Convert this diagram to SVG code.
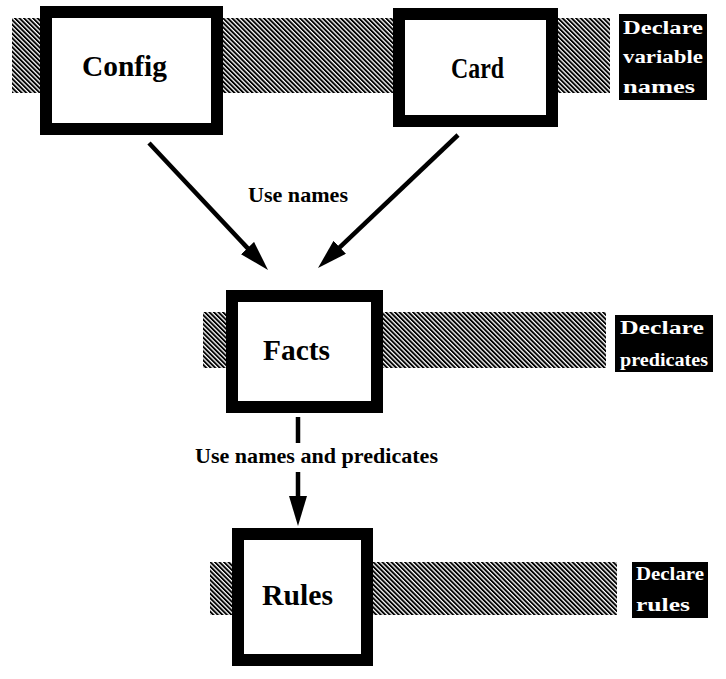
<svg xmlns="http://www.w3.org/2000/svg" width="726" height="679" viewBox="0 0 726 679">
  <defs>
    <pattern id="hatch" width="3.2" height="3.2" patternUnits="userSpaceOnUse" patternTransform="rotate(-45)">
      <rect width="3.2" height="3.2" fill="#fff"/>
      <rect width="1.9" height="3.2" fill="#000"/>
    </pattern>
    <marker id="head" viewBox="0 0 30 18" refX="18" refY="9" markerWidth="30" markerHeight="18" markerUnits="userSpaceOnUse" orient="auto">
      <path d="M0,0 L30,9 L0,18 Z" fill="#000"/>
    </marker>
  </defs>
  <style>
    .band { fill: url(#hatch); }
    .box { fill: #fff; stroke: #000; stroke-width: 12; }
    .name { font-family: "Liberation Serif", "Times New Roman", serif; font-weight: bold; font-size: 30px; fill: #000; }
    .edge { font-family: "Liberation Serif", "Times New Roman", serif; font-weight: bold; font-size: 22px; fill: #000; }
    .tag { fill: #000; }
    .tagtext { font-family: "Liberation Serif", "Times New Roman", serif; font-weight: bold; font-size: 18px; fill: #fff; }
    .link { fill: none; stroke: #000; stroke-width: 4.5; marker-end: url(#head); }
  </style>

  <rect width="726" height="679" fill="#fff"/>

  <!-- hatched layer bands -->
  <rect class="band" x="12" y="18" width="598" height="75"/>
  <rect class="band" x="203" y="312" width="403" height="56"/>
  <rect class="band" x="210" y="562" width="407" height="53"/>

  <!-- layer tags -->
  <g id="tag-names">
    <rect class="tag" x="619" y="14" width="88" height="86"/>
    <text class="tagtext" x="623" y="34" textLength="80" lengthAdjust="spacingAndGlyphs">Declare</text>
    <text class="tagtext" x="623" y="63" textLength="80" lengthAdjust="spacingAndGlyphs">variable</text>
    <text class="tagtext" x="623" y="93" textLength="72" lengthAdjust="spacingAndGlyphs">names</text>
  </g>
  <g id="tag-predicates">
    <rect class="tag" x="615" y="315" width="98" height="57"/>
    <text class="tagtext" x="620" y="334" textLength="84" lengthAdjust="spacingAndGlyphs">Declare</text>
    <text class="tagtext" x="620" y="366" textLength="88" lengthAdjust="spacingAndGlyphs">predicates</text>
  </g>
  <g id="tag-rules">
    <rect class="tag" x="632" y="562" width="76" height="56"/>
    <text class="tagtext" x="636" y="580" textLength="68" lengthAdjust="spacingAndGlyphs">Declare</text>
    <text class="tagtext" x="636" y="611" textLength="54" lengthAdjust="spacingAndGlyphs">rules</text>
  </g>

  <!-- nodes -->
  <g id="config">
    <rect class="box" x="46" y="12" width="171" height="117"/>
    <text class="name" x="82" y="76" textLength="85" lengthAdjust="spacingAndGlyphs">Config</text>
  </g>
  <g id="card">
    <rect class="box" x="399" y="14" width="153" height="107"/>
    <text class="name" x="451" y="78" textLength="53" lengthAdjust="spacingAndGlyphs">Card</text>
  </g>
  <g id="facts">
    <rect class="box" x="232" y="296" width="145" height="111"/>
    <text class="name" x="263" y="360" textLength="67" lengthAdjust="spacingAndGlyphs">Facts</text>
  </g>
  <g id="rules">
    <rect class="box" x="238" y="534" width="129" height="126"/>
    <text class="name" x="262" y="605" textLength="71" lengthAdjust="spacingAndGlyphs">Rules</text>
  </g>

  <!-- connectors -->
  <g id="connectors">
    <path class="link" d="M149,143 L259.8,261.2"/>
    <path class="link" d="M458,135 L326.7,259.7"/>
    <path class="link" d="M298,417 V443 M298,472 V514"/>
    <text class="edge" x="248" y="202" textLength="100" lengthAdjust="spacingAndGlyphs">Use names</text>
    <text class="edge" x="195" y="463" textLength="243" lengthAdjust="spacingAndGlyphs">Use names and predicates</text>
  </g>
</svg>
